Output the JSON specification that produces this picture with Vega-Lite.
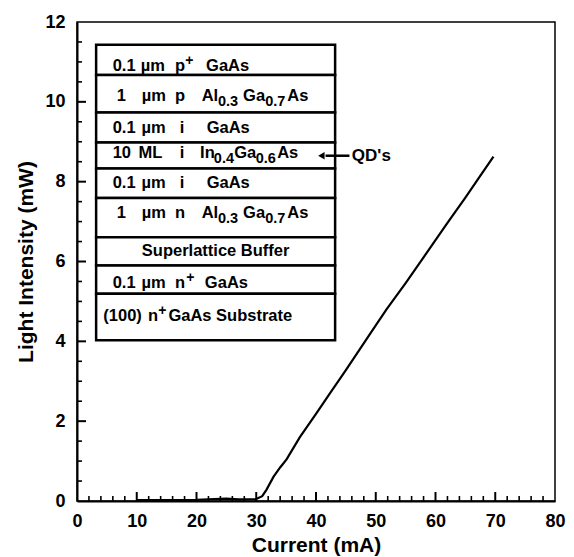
{
  "$schema": "https://vega.github.io/schema/vega-lite/v6.json",
  "width": 478,
  "height": 479,
  "autosize": {"type": "none"},
  "padding": {"left": 77, "top": 22, "right": 19, "bottom": 56},
  "background": "white",
  "config": {
    "view": {"stroke": "black", "strokeWidth": 1.5},
    "font": "Liberation Sans",
    "axis": {
      "grid": false,
      "zindex": 1,
      "domainColor": "black",
      "tickColor": "black",
      "labelColor": "black",
      "titleColor": "black",
      "labelFont": "Liberation Sans",
      "titleFont": "Liberation Sans",
      "labelFontWeight": "bold",
      "titleFontWeight": "bold",
      "labelFontSize": 18,
      "titleFontSize": 21
    }
  },
  "datasets": {
    "curve": [
      {"I": 10, "P": 0.02}, {"I": 15, "P": 0.02}, {"I": 20, "P": 0.03}, {"I": 23, "P": 0.05},
      {"I": 25, "P": 0.06}, {"I": 27, "P": 0.04}, {"I": 30, "P": 0.05}, {"I": 31, "P": 0.12},
      {"I": 31.7, "P": 0.28}, {"I": 32.9, "P": 0.61}, {"I": 34, "P": 0.84}, {"I": 35.1, "P": 1.05},
      {"I": 37.3, "P": 1.6}, {"I": 40, "P": 2.18}, {"I": 42.3, "P": 2.69}, {"I": 45, "P": 3.28},
      {"I": 47.4, "P": 3.82}, {"I": 50, "P": 4.4}, {"I": 51.8, "P": 4.8}, {"I": 55, "P": 5.46},
      {"I": 59.1, "P": 6.34}, {"I": 62, "P": 6.97}, {"I": 65, "P": 7.6}, {"I": 67, "P": 8.04},
      {"I": 69.7, "P": 8.63}
    ],
    "xticks": [
      {"v": 2, "m": "minor"}, {"v": 4, "m": "minor"}, {"v": 6, "m": "minor"}, {"v": 8, "m": "minor"},
      {"v": 10, "m": "major"},
      {"v": 12, "m": "minor"}, {"v": 14, "m": "minor"}, {"v": 16, "m": "minor"}, {"v": 18, "m": "minor"},
      {"v": 20, "m": "major"},
      {"v": 22, "m": "minor"}, {"v": 24, "m": "minor"}, {"v": 26, "m": "minor"}, {"v": 28, "m": "minor"},
      {"v": 30, "m": "major"},
      {"v": 32, "m": "minor"}, {"v": 34, "m": "minor"}, {"v": 36, "m": "minor"}, {"v": 38, "m": "minor"},
      {"v": 40, "m": "major"},
      {"v": 42, "m": "minor"}, {"v": 44, "m": "minor"}, {"v": 46, "m": "minor"}, {"v": 48, "m": "minor"},
      {"v": 50, "m": "major"},
      {"v": 52, "m": "minor"}, {"v": 54, "m": "minor"}, {"v": 56, "m": "minor"}, {"v": 58, "m": "minor"},
      {"v": 60, "m": "major"},
      {"v": 62, "m": "minor"}, {"v": 64, "m": "minor"}, {"v": 66, "m": "minor"}, {"v": 68, "m": "minor"},
      {"v": 70, "m": "major"},
      {"v": 72, "m": "minor"}, {"v": 74, "m": "minor"}, {"v": 76, "m": "minor"}, {"v": 78, "m": "minor"}
    ],
    "yticks": [
      {"v": 0.5, "m": "minor"}, {"v": 1, "m": "minor"}, {"v": 1.5, "m": "minor"}, {"v": 2, "m": "major"},
      {"v": 2.5, "m": "minor"}, {"v": 3, "m": "minor"}, {"v": 3.5, "m": "minor"}, {"v": 4, "m": "major"},
      {"v": 4.5, "m": "minor"}, {"v": 5, "m": "minor"}, {"v": 5.5, "m": "minor"}, {"v": 6, "m": "major"},
      {"v": 6.5, "m": "minor"}, {"v": 7, "m": "minor"}, {"v": 7.5, "m": "minor"}, {"v": 8, "m": "major"},
      {"v": 8.5, "m": "minor"}, {"v": 9, "m": "minor"}, {"v": 9.5, "m": "minor"}, {"v": 10, "m": "major"},
      {"v": 10.5, "m": "minor"}, {"v": 11, "m": "minor"}, {"v": 11.5, "m": "minor"}
    ],
    "layers": [
      {"x0": 3.2, "x1": 43.2, "y0": 11.43, "y1": 10.67},
      {"x0": 3.2, "x1": 43.2, "y0": 10.67, "y1": 9.73},
      {"x0": 3.2, "x1": 43.2, "y0": 9.73, "y1": 8.98},
      {"x0": 3.2, "x1": 43.2, "y0": 8.98, "y1": 8.33},
      {"x0": 3.2, "x1": 43.2, "y0": 8.33, "y1": 7.59},
      {"x0": 3.2, "x1": 43.2, "y0": 7.59, "y1": 6.61},
      {"x0": 3.2, "x1": 43.2, "y0": 6.61, "y1": 5.9},
      {"x0": 3.2, "x1": 43.2, "y0": 5.9, "y1": 5.19},
      {"x0": 3.2, "x1": 43.2, "y0": 5.19, "y1": 4.03}
    ],
    "labels": [
      {"y": 10.9, "x": 5.97, "t": "0.1", "k": "b"},
      {"y": 10.9, "x": 10.66, "t": "µm", "k": "b"},
      {"y": 10.9, "x": 16.4, "t": "p", "k": "b"},
      {"y": 10.9, "x": 18.1, "t": "+", "k": "p"},
      {"y": 10.9, "x": 21.6, "t": "GaAs", "k": "b"},

      {"y": 10.15, "x": 6.64, "t": "1", "k": "b"},
      {"y": 10.15, "x": 10.83, "t": "µm", "k": "b"},
      {"y": 10.15, "x": 16.4, "t": "p", "k": "b"},
      {"y": 10.15, "x": 20.87, "t": "Al", "k": "b"},
      {"y": 10.15, "x": 23.6, "t": "0.3", "k": "s"},
      {"y": 10.15, "x": 27.8, "t": "Ga", "k": "b"},
      {"y": 10.15, "x": 31.5, "t": "0.7", "k": "s"},
      {"y": 10.15, "x": 35.2, "t": "As", "k": "b"},

      {"y": 9.34, "x": 5.97, "t": "0.1", "k": "b"},
      {"y": 9.34, "x": 10.8, "t": "µm", "k": "b"},
      {"y": 9.34, "x": 17.2, "t": "i", "k": "b"},
      {"y": 9.34, "x": 21.7, "t": "GaAs", "k": "b"},

      {"y": 8.73, "x": 5.97, "t": "10", "k": "b"},
      {"y": 8.73, "x": 10.3, "t": "ML", "k": "b"},
      {"y": 8.73, "x": 17.2, "t": "i", "k": "b"},
      {"y": 8.73, "x": 20.6, "t": "In", "k": "b"},
      {"y": 8.73, "x": 22.9, "t": "0.4", "k": "s"},
      {"y": 8.73, "x": 26.3, "t": "Ga", "k": "b"},
      {"y": 8.73, "x": 29.9, "t": "0.6", "k": "s"},
      {"y": 8.73, "x": 33.5, "t": "As", "k": "b"},

      {"y": 7.96, "x": 5.97, "t": "0.1", "k": "b"},
      {"y": 7.96, "x": 10.8, "t": "µm", "k": "b"},
      {"y": 7.96, "x": 17.2, "t": "i", "k": "b"},
      {"y": 7.96, "x": 21.7, "t": "GaAs", "k": "b"},

      {"y": 7.21, "x": 6.64, "t": "1", "k": "b"},
      {"y": 7.21, "x": 10.83, "t": "µm", "k": "b"},
      {"y": 7.21, "x": 16.4, "t": "n", "k": "b"},
      {"y": 7.21, "x": 20.87, "t": "Al", "k": "b"},
      {"y": 7.21, "x": 23.6, "t": "0.3", "k": "s"},
      {"y": 7.21, "x": 27.8, "t": "Ga", "k": "b"},
      {"y": 7.21, "x": 31.5, "t": "0.7", "k": "s"},
      {"y": 7.21, "x": 35.2, "t": "As", "k": "b"},

      {"y": 6.26, "x": 23.2, "t": "Superlattice Buffer", "k": "c"},

      {"y": 5.46, "x": 5.97, "t": "0.1", "k": "b"},
      {"y": 5.46, "x": 10.8, "t": "µm", "k": "b"},
      {"y": 5.46, "x": 16.4, "t": "n", "k": "b"},
      {"y": 5.46, "x": 18.3, "t": "+", "k": "p"},
      {"y": 5.46, "x": 21.4, "t": "GaAs", "k": "b"},

      {"y": 4.64, "x": 4.4, "t": "(100)", "k": "b"},
      {"y": 4.64, "x": 11.9, "t": "n", "k": "b"},
      {"y": 4.64, "x": 13.6, "t": "+", "k": "p"},
      {"y": 4.64, "x": 15.3, "t": "GaAs Substrate", "k": "b"}
    ],
    "arrow": [{"x": 41.6, "x2": 45.6, "y": 8.65, "tip": 40.9, "label": "QD's", "lx": 46.0}]
  },
  "resolve": {"axis": {"x": "independent", "y": "independent"}},
  "layer": [
    {
      "data": {"name": "curve"},
      "mark": {"type": "line", "color": "black", "strokeWidth": 2.2},
      "encoding": {
        "x": {
          "field": "I", "type": "quantitative",
          "scale": {"domain": [0, 80], "nice": false, "zero": false},
          "axis": {
            "orient": "bottom", "values": [0, 10, 20, 30, 40, 50, 60, 70, 80],
            "ticks": false, "domainWidth": 2, "labelPadding": 11,
            "labelFlush": false, "title": "Current (mA)", "titlePadding": 4
          }
        },
        "y": {
          "field": "P", "type": "quantitative",
          "scale": {"domain": [0, 12], "nice": false, "zero": false},
          "axis": {
            "orient": "left", "values": [0, 2, 4, 6, 8, 10, 12],
            "ticks": false, "domainWidth": 2, "labelPadding": 12,
            "labelFlush": false, "title": "Light Intensity (mW)", "titlePadding": 8
          }
        }
      }
    },
    {
      "data": {"name": "xticks"},
      "transform": [{"filter": "datum.m === 'major'"}],
      "mark": {"type": "tick", "orient": "vertical", "color": "black", "size": 9, "thickness": 2, "yOffset": -4.5, "opacity": 1},
      "encoding": {
        "x": {"field": "v", "type": "quantitative", "scale": {"domain": [0, 80], "nice": false, "zero": false}, "axis": null},
        "y": {"datum": 0, "type": "quantitative", "scale": {"domain": [0, 12], "nice": false, "zero": false}, "axis": null}
      }
    },
    {
      "data": {"name": "xticks"},
      "transform": [{"filter": "datum.m === 'minor'"}],
      "mark": {"type": "tick", "orient": "vertical", "color": "black", "size": 5, "thickness": 1.6, "yOffset": -2.5, "opacity": 1},
      "encoding": {
        "x": {"field": "v", "type": "quantitative", "scale": {"domain": [0, 80], "nice": false, "zero": false}, "axis": null},
        "y": {"datum": 0, "type": "quantitative", "scale": {"domain": [0, 12], "nice": false, "zero": false}, "axis": null}
      }
    },
    {
      "data": {"name": "yticks"},
      "transform": [{"filter": "datum.m === 'major'"}],
      "mark": {"type": "tick", "orient": "horizontal", "color": "black", "size": 9, "thickness": 2, "xOffset": 4.5, "opacity": 1},
      "encoding": {
        "y": {"field": "v", "type": "quantitative", "scale": {"domain": [0, 12], "nice": false, "zero": false}, "axis": null},
        "x": {"datum": 0, "type": "quantitative", "scale": {"domain": [0, 80], "nice": false, "zero": false}, "axis": null}
      }
    },
    {
      "data": {"name": "yticks"},
      "transform": [{"filter": "datum.m === 'minor'"}],
      "mark": {"type": "tick", "orient": "horizontal", "color": "black", "size": 5, "thickness": 1.6, "xOffset": 2.5, "opacity": 1},
      "encoding": {
        "y": {"field": "v", "type": "quantitative", "scale": {"domain": [0, 12], "nice": false, "zero": false}, "axis": null},
        "x": {"datum": 0, "type": "quantitative", "scale": {"domain": [0, 80], "nice": false, "zero": false}, "axis": null}
      }
    },
    {
      "data": {"name": "layers"},
      "mark": {"type": "rect", "fill": "white", "stroke": "black", "strokeWidth": 2.5},
      "encoding": {
        "x": {"field": "x0", "type": "quantitative", "scale": {"domain": [0, 80], "nice": false, "zero": false}, "axis": null},
        "x2": {"field": "x1"},
        "y": {"field": "y0", "type": "quantitative", "scale": {"domain": [0, 12], "nice": false, "zero": false}, "axis": null},
        "y2": {"field": "y1"}
      }
    },
    {
      "data": {"name": "labels"},
      "transform": [{"filter": "datum.k === 'b'"}],
      "mark": {"type": "text", "align": "left", "baseline": "middle", "fontSize": 16.5, "fontWeight": "bold", "font": "Liberation Sans", "color": "black"},
      "encoding": {
        "x": {"field": "x", "type": "quantitative", "scale": {"domain": [0, 80], "nice": false, "zero": false}, "axis": null},
        "y": {"field": "y", "type": "quantitative", "scale": {"domain": [0, 12], "nice": false, "zero": false}, "axis": null},
        "text": {"field": "t"}
      }
    },
    {
      "data": {"name": "labels"},
      "transform": [{"filter": "datum.k === 'c'"}],
      "mark": {"type": "text", "align": "center", "baseline": "middle", "fontSize": 16.5, "fontWeight": "bold", "font": "Liberation Sans", "color": "black"},
      "encoding": {
        "x": {"field": "x", "type": "quantitative", "scale": {"domain": [0, 80], "nice": false, "zero": false}, "axis": null},
        "y": {"field": "y", "type": "quantitative", "scale": {"domain": [0, 12], "nice": false, "zero": false}, "axis": null},
        "text": {"field": "t"}
      }
    },
    {
      "data": {"name": "labels"},
      "transform": [{"filter": "datum.k === 's'"}],
      "mark": {"type": "text", "align": "left", "baseline": "middle", "dy": 6, "fontSize": 14.5, "fontWeight": "bold", "font": "Liberation Sans", "color": "black"},
      "encoding": {
        "x": {"field": "x", "type": "quantitative", "scale": {"domain": [0, 80], "nice": false, "zero": false}, "axis": null},
        "y": {"field": "y", "type": "quantitative", "scale": {"domain": [0, 12], "nice": false, "zero": false}, "axis": null},
        "text": {"field": "t"}
      }
    },
    {
      "data": {"name": "labels"},
      "transform": [{"filter": "datum.k === 'p'"}],
      "mark": {"type": "text", "align": "left", "baseline": "middle", "dy": -5, "fontSize": 14, "fontWeight": "bold", "font": "Liberation Sans", "color": "black"},
      "encoding": {
        "x": {"field": "x", "type": "quantitative", "scale": {"domain": [0, 80], "nice": false, "zero": false}, "axis": null},
        "y": {"field": "y", "type": "quantitative", "scale": {"domain": [0, 12], "nice": false, "zero": false}, "axis": null},
        "text": {"field": "t"}
      }
    },
    {
      "data": {"name": "arrow"},
      "mark": {"type": "rule", "color": "black", "strokeWidth": 2.5},
      "encoding": {
        "x": {"field": "x", "type": "quantitative", "scale": {"domain": [0, 80], "nice": false, "zero": false}, "axis": null},
        "x2": {"field": "x2"},
        "y": {"field": "y", "type": "quantitative", "scale": {"domain": [0, 12], "nice": false, "zero": false}, "axis": null}
      }
    },
    {
      "data": {"name": "arrow"},
      "mark": {"type": "point", "shape": "triangle-left", "filled": true, "color": "black", "size": 55, "opacity": 1},
      "encoding": {
        "x": {"field": "tip", "type": "quantitative", "scale": {"domain": [0, 80], "nice": false, "zero": false}, "axis": null},
        "y": {"field": "y", "type": "quantitative", "scale": {"domain": [0, 12], "nice": false, "zero": false}, "axis": null}
      }
    },
    {
      "data": {"name": "arrow"},
      "mark": {"type": "text", "align": "left", "baseline": "middle", "fontSize": 17, "fontWeight": "bold", "font": "Liberation Sans", "color": "black"},
      "encoding": {
        "x": {"field": "lx", "type": "quantitative", "scale": {"domain": [0, 80], "nice": false, "zero": false}, "axis": null},
        "y": {"field": "y", "type": "quantitative", "scale": {"domain": [0, 12], "nice": false, "zero": false}, "axis": null},
        "text": {"field": "label"}
      }
    }
  ]
}
